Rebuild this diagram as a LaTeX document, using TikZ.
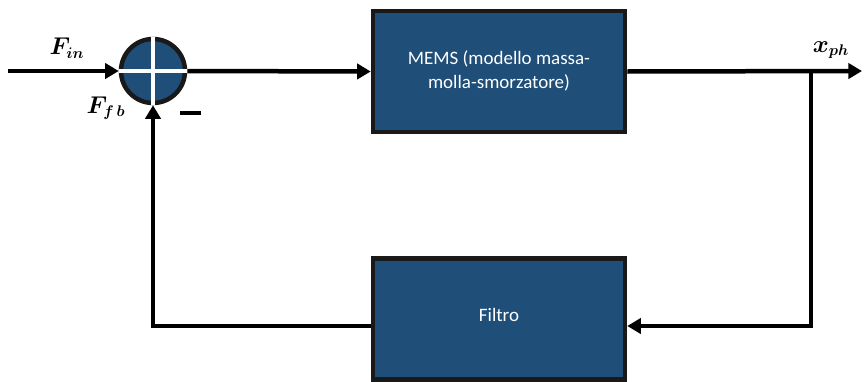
\documentclass[tikz,border=0pt]{standalone}
\usepackage{amsmath, bm}
\usepackage{fontspec}
\setmainfont{Carlito}
\usepackage{tikz}
\usetikzlibrary{positioning, arrows.meta, calc}
\usepackage{xcolor}
\definecolor{blockblue}{RGB}{31,78,121}
\tikzset{
    sysblock/.style={
        rectangle, draw=black!90, line width=3.2pt,
        fill=blockblue, text=white,
        minimum width=6.3cm, minimum height=3.02cm,
        align=center, font=\fontsize{13.5}{17.5}\selectfont
    },
    sumnode/.style={
        circle, draw=black!90, line width=3.2pt,
        fill=blockblue, minimum size=1.6cm, inner sep=0pt
    },
    sig/.style={
        line width=3.2pt, line join=miter, -{Triangle[length=3.4mm, width=3.8mm]}
    },
    wire/.style={
        line width=3.2pt
    },
    siglabel/.style={
        font=\fontsize{16}{18}\selectfont
    }
}

\begin{document}
\begin{tikzpicture}[x=0.025cm, y=-0.025cm]
\useasboundingbox (0,0) rectangle (864,382);

% blocks
\node[sumnode] (sum) at (153,71) {};
\node[sysblock] (mems) at (499,71.5) {\raisebox{3pt}{MEMS (modello massa-}\\\raisebox{3pt}{molla-smorzatore)}};
\node[sysblock] (filtro) at (499,319) {\raisebox{6pt}{Filtro}};

% plus inside the summing junction
\draw[white, line width=2.2pt] (sum.west) -- (sum.east);
\draw[white, line width=2.2pt] (sum.north) -- (sum.south);

% signals and labels
\coordinate (in) at (8,71);
\coordinate (out) at (862,71);
\coordinate (branch) at (811,71);
\coordinate (fbr) at (811,326);

\node[siglabel] (fin) at (67,48) {$\bm{F_{in}}$};
\node[siglabel] (ffb) at (106,108) {$\bm{F_{f\,b}}$};
\node[siglabel] (xph) at (831,50) {$\bm{x_{ph}}$};
\draw[wire] (180,113) -- (201,113);

\draw[sig] (in) -- (sum.west);
\draw[sig] (sum.east) -- (mems.west);
\draw[sig] (mems.east) -- (out);
\draw[sig] (branch) -- (fbr) -- (filtro.east |- fbr);
\draw[sig] (filtro.west |- fbr) -| (sum.south);

\end{tikzpicture}
\end{document}
